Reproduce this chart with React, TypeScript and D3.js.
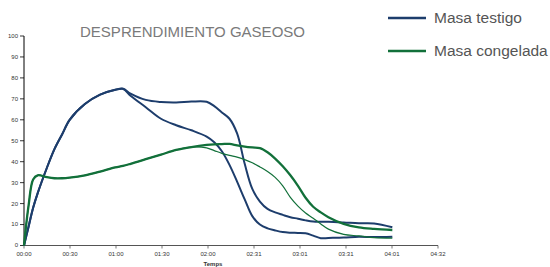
import * as d3 from "d3";

// time in minutes since start
const minutes = [0, 3, 6, 9, 15, 20, 25, 30, 40, 50, 60, 65, 70, 80, 90, 100, 110, 120, 125, 130, 135, 140, 145, 150, 155, 160, 165, 170, 175, 180, 185, 190, 195, 200, 210, 220, 230, 242];

const testigoA = [0, 9, 18, 25, 37, 46, 53, 60, 67.5, 72, 74.3, 74.8, 72.5, 69.5, 68.5, 68.3, 68.7, 68.6, 66.5, 63.5, 60.5, 53.5, 39, 27, 21, 17.5, 15.8, 14.6, 13.5, 12.8, 12, 11.4, 11.3, 11.3, 11, 10.6, 10.5, 8.7];
const testigoB = [0, 9, 18, 25, 37, 46, 53, 60, 67.5, 72, 74.3, 74.8, 71.5, 66, 60.5, 57.4, 55, 52, 49.3, 45, 38.5, 30.5, 22, 14, 10, 8.2, 7.2, 6.4, 6.1, 6, 5.8, 4.7, 3.5, 3.6, 3.8, 4.2, 4, 4.2];
const congeladaA = [0, 19, 31.5, 33.5, 32.6, 32.1, 32.1, 32.4, 33.5, 35.3, 37.3, 38, 39, 41.2, 43.4, 45.6, 47, 48, 48.3, 48.4, 48.5, 47.8, 47.2, 46.8, 46.5, 44.5, 41.5, 37.8, 33.5, 28.5, 22.8, 18.5, 15.8, 13.5, 10.3, 8.6, 7.9, 7.4];
const congeladaB = [0, 19, 31.5, 33.5, 32.6, 32.1, 32.1, 32.4, 33.5, 35.3, 37.3, 38, 39, 41.2, 43.4, 45.6, 47, 46.6, 45.3, 44, 43, 42.2, 41, 39.5, 37.5, 35.3, 32.5, 28.5, 23, 18.8, 15.5, 13, 10.3, 7.8, 5.3, 4.6, 3.8, 3.5];

const yTicks = [0, 10, 20, 30, 40, 50, 60, 70, 80, 90, 100];
const xTickLabels = ["00:00", "00:30", "01:00", "01:30", "02:00", "02:31", "03:01", "03:31", "04:01", "04:32"];
const xMax = 272;

const BLUE = "#1d3d6c";
const GREEN = "#12703a";

const series = [
  { values: testigoA, color: BLUE, width: 2 },
  { values: testigoB, color: BLUE, width: 2 },
  { values: congeladaB, color: GREEN, width: 1.2 },
  { values: congeladaA, color: GREEN, width: 2.3 },
];

const legend = [
  { label: "Masa testigo", color: BLUE },
  { label: "Masa congelada", color: GREEN },
];

export default function App() {
  const x = d3.scaleLinear().domain([0, xMax]).range([24, 438]);
  const y = d3.scaleLinear().domain([0, 100]).range([245.5, 36]);

  // smoothed like the spreadsheet original
  const line = d3
    .line<number>()
    .x((_, i) => x(minutes[i]))
    .y((d) => y(d))
    .curve(d3.curveCatmullRom.alpha(0.5));

  const xTicks = xTickLabels.map((_, i) => (i * xMax) / (xTickLabels.length - 1));
  const font = "'Liberation Sans', Arial, sans-serif";

  return (
    <svg
      width={550}
      height={267}
      style={{ position: "absolute", left: 0, top: 0, background: "#fff" }}
      fontFamily={font}
    >
      {/* title */}
      <text x={192.5} y={36.5} fontSize={14} fill="#7a7a7a" textAnchor="middle" textLength={225} lengthAdjust="spacingAndGlyphs">
        DESPRENDIMIENTO GASEOSO
      </text>

      {/* y axis */}
      <line x1={x(0)} x2={x(0)} y1={y(100)} y2={y(0)} stroke="#000" strokeWidth={1} />
      {yTicks.map((t) => (
        <g key={t} transform={`translate(${x(0)},${y(t)})`}>
          <line x1={-4} x2={0} stroke="#000" strokeWidth={0.8} />
          <text x={-6} dy="0.32em" fontSize={6} fill="#333" textAnchor="end">
            {t}
          </text>
        </g>
      ))}

      {/* x axis */}
      <line x1={x(0)} x2={x(xMax)} y1={y(0)} y2={y(0)} stroke="#555" strokeWidth={1} />
      {xTicks.map((t, i) => (
        <g key={i} transform={`translate(${x(t)},${y(0)})`}>
          <line y1={0} y2={3} stroke="#555" strokeWidth={0.8} />
          <text y={10} fontSize={6} fill="#333" textAnchor="middle">
            {xTickLabels[i]}
          </text>
        </g>
      ))}
      <text x={213} y={266} fontSize={6} fontWeight="bold" fill="#333" textAnchor="middle">
        Temps
      </text>

      {/* lines */}
      {series.map((s, i) => (
        <path key={i} d={line(s.values) ?? ""} fill="none" stroke={s.color} strokeWidth={s.width} strokeLinejoin="round" />
      ))}

      {/* legend */}
      {legend.map((l, i) => (
        <g key={l.label} transform={`translate(388,${18 + i * 33})`}>
          <line x1={0} x2={38} stroke={l.color} strokeWidth={2.5} />
          <text x={46} dy="0.35em" fontSize={15.5} fill="#555">
            {l.label}
          </text>
        </g>
      ))}
    </svg>
  );
}
